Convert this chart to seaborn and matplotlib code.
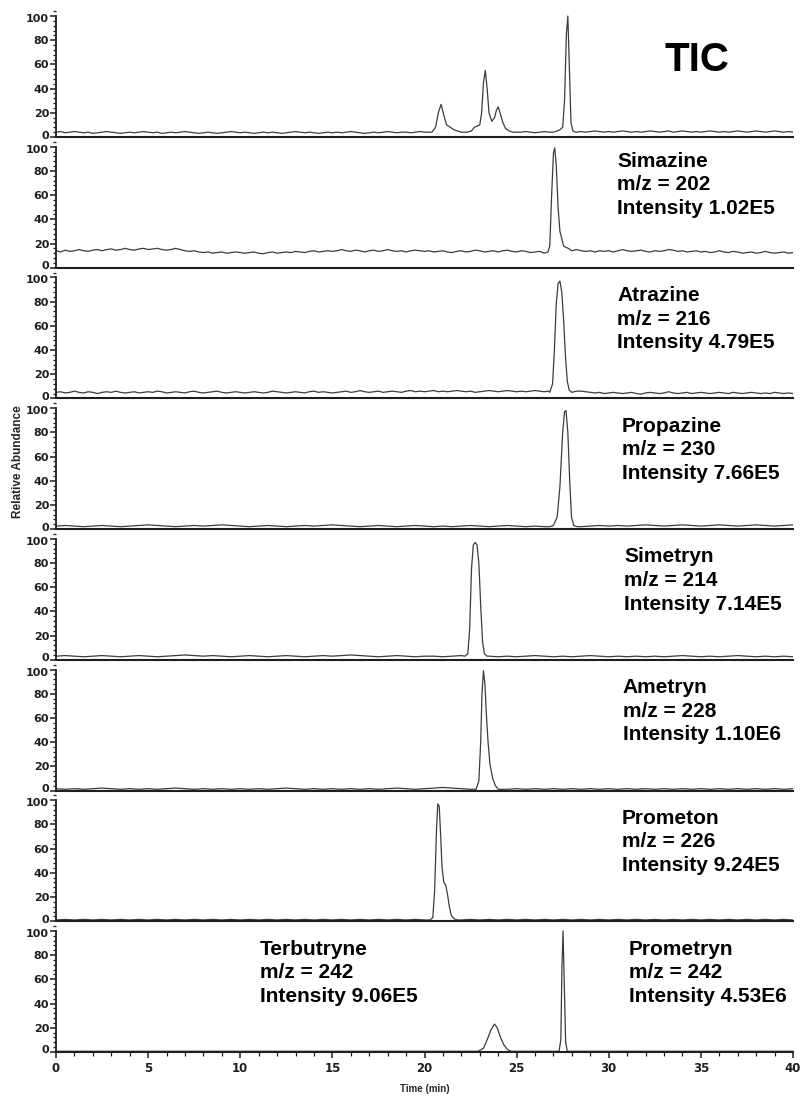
import matplotlib
matplotlib.use("Agg")
import matplotlib.pyplot as plt
from matplotlib.ticker import MultipleLocator
from matplotlib.transforms import ScaledTranslation
import pandas as pd
import seaborn as sns

# ---------------------------------------------------------------------------
# Data: SIM chromatograms of triazine herbicides (relative abundance, %)
# ---------------------------------------------------------------------------
# baseline sampling grids, minutes
base_time = [i * 0.5 for i in range(81)]          # 0 .. 40, every 0.5 min
base_time_fine = [i * 0.25 for i in range(161)]   # 0 .. 40, every 0.25 min

tic_base = [
    4, 4.5, 3.5, 4, 4.5, 4, 3.5, 4, 3, 3.5, 4, 4.5, 4, 3.5, 3, 3.5, 4, 3.5, 4, 4.5, 4,
    3.5, 4, 3, 3.5, 4, 3.5, 4, 4.5, 4, 3.5, 3, 3.5, 4, 3.5, 3, 3.5, 4, 4.5, 4, 3.5,
    4, 3.5, 3, 3.5, 4, 3.5, 4, 3.5, 3, 3.5, 4, 4.5, 4, 3.5, 4, 3.5, 3, 3.5, 4, 3.5,
    4, 3.5, 4, 4.5, 4, 3.5, 3, 3.5, 4, 3.5, 4, 4.5, 4, 3.5, 4, 4, 3.5, 4, 4.5, 4,
    4, 4, 4, 4, 4, 4, 4, 4, 4, 4, 4, 4, 4, 4, 4, 4, 4, 4, 4, 4,
    4, 4.5, 4, 3.5, 4, 4.5, 4, 4, 4, 4, 4, 4, 4, 4.5, 4, 4.5, 5, 4.5, 4, 4.5,
    4, 4.5, 5, 4.5, 4, 4.5, 4, 4.5, 5, 4.5, 4, 4.5, 5, 4, 4.5, 5, 4.5, 4, 4.5, 4,
    4.5, 5, 4.5, 4, 4.5, 4, 4.5, 5, 4.5, 4, 4.5, 5, 4.5, 4, 4.5, 5, 4.5, 4, 4.5, 4,
]
simazine_base = [
    14, 13, 14.5, 13.5, 14, 15, 14, 13.5, 14.5, 15, 14, 15, 15.5, 14.5, 15, 16, 15, 14.5, 15.5, 16, 15,
    15.5, 16, 15, 14.5, 15, 16, 15, 14, 13.5, 14, 13, 12.5, 13, 12, 12.5, 13, 12, 12.5, 13, 12.5,
    12, 12.5, 13, 12, 11.5, 12.5, 13, 12, 12.5, 13, 12.5, 13.5, 13, 12.5, 13.5, 14, 13, 13.5, 14, 13.5,
    14, 15, 14, 13.5, 14.5, 14, 13, 14, 14.5, 13.5, 14, 15, 14, 13.5, 14, 13, 14, 14.5, 14, 13.5,
    14, 13, 13.5, 14, 13, 12.5, 13.5, 14, 13, 13.5, 14.5, 14, 13, 13.5, 14, 13, 14, 14.5, 13.5, 13,
    14, 13.5, 12.5, 13, 13.5, 12.5, 13, 14, 13, 13, 13, 14, 15, 14, 13.5, 14, 13, 14, 13.5, 14,
    13, 14, 15, 14, 13.5, 14, 14.5, 13.5, 13, 14, 13.5, 14, 15, 14.5, 13.5, 14, 13, 13.5, 14, 13,
    13.5, 12.5, 13, 14, 13, 12.5, 13.5, 13, 12, 12.5, 13, 12, 12.5, 13.5, 12.5, 12, 12.5, 13, 12, 12.5,
]
atrazine_base = [
    5, 5.5, 4.5, 5, 6, 5, 4.5, 5.5, 5, 4, 5, 5.5, 5, 6, 5, 4.5, 5, 5.5, 4.5, 5, 5.5,
    5, 6, 5.5, 4.5, 5, 5.5, 5, 4.5, 5.5, 6, 5, 4.5, 5, 5.5, 6, 5, 4.5, 5, 5.5, 5,
    4.5, 5, 5.5, 5, 4.5, 5, 6, 5.5, 5, 4.5, 5, 5.5, 5, 4.5, 5.5, 6, 5, 5.5, 5, 4.5,
    5, 5.5, 6, 5, 5.5, 6.5, 5.5, 5, 5.5, 6, 5, 5.5, 6, 5.5, 5, 6, 6.5, 5.5, 6, 5.5,
    6, 6.5, 5.5, 6, 5.5, 6, 6.5, 6, 5.5, 6, 5, 5.5, 6, 6.5, 6, 5.5, 6, 6.5, 6, 5.5,
    6, 5.5, 6, 6.5, 6, 5.5, 6, 6, 6, 6, 6, 6, 6, 6, 5.5, 5, 4.5, 5, 4, 4.5,
    5, 4.5, 4, 4.5, 5, 4, 3.5, 4.5, 5, 4.5, 4, 4.5, 5.5, 4.5, 4, 4.5, 5, 4, 4.5, 5,
    4.5, 4, 4.5, 5, 4.5, 4, 5, 4.5, 4, 4.5, 5, 4.5, 4, 4.5, 4, 5, 4.5, 4, 4.5, 4,
]
propazine_base = [2.5, 3, 2.5, 2, 2.5, 3, 2.5, 2, 2.5, 3, 3.5, 3, 2.5, 2, 2.5, 3, 2.5, 3, 3.5, 3, 2.5,
                  2, 2.5, 3, 2.5, 2, 2.5, 3, 2.5, 3, 3.5, 3, 2.5, 2, 2.5, 3, 2.5, 2, 2.5, 3, 2.5,
                  2, 2.5, 2, 2.5, 3, 2.5, 2, 2.5, 3, 2.5, 2, 2.5, 2, 2.5, 2, 2.5, 2, 2.5, 3, 2.5,
                  3, 2.5, 3, 3.5, 3, 2.5, 3, 3.5, 3, 2.5, 3, 3.5, 3, 2.5, 3, 3.5, 3, 2.5, 3, 3.5]
simetryn_base = [3, 3.5, 3, 2.5, 3, 3.5, 3, 2.5, 3, 3.5, 3, 2.5, 3, 3.5, 4, 3.5, 3, 3.5, 3, 2.5, 3,
                 3.5, 3, 2.5, 3, 3.5, 3, 2.5, 3, 3.5, 3, 3.5, 4, 3.5, 3, 2.5, 3, 3.5, 3, 2.5, 3,
                 3, 2.5, 3, 3.5, 3, 3.5, 3, 2.5, 3, 2.5, 3, 3.5, 3, 2.5, 3, 2.5, 3, 3.5, 3, 2.5,
                 3, 2.5, 3, 2.5, 3, 2.5, 3, 3.5, 3, 2.5, 3, 2.5, 3, 3.5, 3, 2.5, 3, 2.5, 3, 2.5]
ametryn_base = [1.5, 1, 1.5, 1, 1.5, 2, 1.5, 1, 1.5, 1, 1.5, 1, 1.5, 2, 1.5, 1, 1.5, 1, 1.5, 1, 1.5,
                1, 1.5, 1, 1.5, 2, 1.5, 1, 1.5, 1, 1.5, 1, 1.5, 1, 1.5, 1, 1.5, 2, 1.5, 1, 1.5,
                2, 2.5, 2, 1.5, 1, 1.5, 1, 1.5, 1, 1.5, 1, 1.5, 1, 1.5, 1, 1.5, 1, 1.5, 1, 1.5,
                1, 1.5, 1, 1.5, 1, 1.5, 1, 1.5, 1, 1.5, 1, 1.5, 1, 1.5, 1, 1.5, 1, 1.5, 1, 1.5]
prometon_base = [1, 1.5, 1, 1.5, 1, 1.5, 1, 1.5, 1, 1.5, 1, 1.5, 1, 1.5, 1, 1.5, 1, 1.5, 1, 1.5, 1,
                 1.5, 1, 1.5, 1, 1.5, 1, 1.5, 1, 1.5, 1, 1.5, 1, 1.5, 1, 1.5, 1, 1.5, 1, 1.5, 1,
                 1.5, 1, 1.5, 1, 1.5, 1, 1.5, 1, 1.5, 1, 1.5, 1, 1.5, 1, 1.5, 1, 1.5, 1, 1.5, 1,
                 1.5, 1, 1.5, 1, 1.5, 1, 1.5, 1, 1.5, 1, 1.5, 1, 1.5, 1, 1.5, 1, 1.5, 1, 1.5, 1]
m242_base = [0.5] * 81

# peak segments: (times, relative abundance)
tic_peaks = [
    ([20.4, 20.6, 20.75, 20.9, 21.05, 21.2, 21.4, 21.6, 21.8, 22.0, 22.3, 22.55, 22.7, 22.85,
      23.0, 23.1, 23.2, 23.3, 23.4, 23.5, 23.65, 23.8, 23.9, 24.0, 24.1, 24.25, 24.4, 24.6,
      24.8, 25.0],
     [4, 8, 20, 27, 18, 10, 8, 6, 5, 4, 4, 5, 8, 9, 10, 20, 45, 55, 40, 20, 13, 16, 22, 25,
      20, 12, 7, 5, 4, 4]),
    ([27.0, 27.2, 27.35, 27.5, 27.6, 27.7, 27.78, 27.86, 27.95, 28.05, 28.2],
     [4, 5, 6, 8, 30, 85, 100, 60, 12, 5, 4]),
]
simazine_peaks = [
    ([26.5, 26.7, 26.8, 26.9, 27.0, 27.07, 27.15, 27.25, 27.35, 27.45, 27.55, 27.65, 27.8, 28.0],
     [12, 13, 18, 60, 95, 99, 85, 50, 30, 24, 18, 17, 16, 14]),
]
atrazine_peaks = [
    ([26.8, 26.95, 27.05, 27.15, 27.25, 27.35, 27.45, 27.55, 27.65, 27.75, 27.85, 28.0],
     [5, 12, 40, 78, 95, 97, 88, 65, 35, 14, 7, 5]),
]
propazine_peaks = [
    ([26.8, 27.0, 27.2, 27.35, 27.5, 27.6, 27.68, 27.78, 27.88, 27.98, 28.1, 28.3],
     [2, 3, 10, 35, 80, 97, 98, 80, 40, 10, 3, 2]),
]
simetryn_peaks = [
    ([22.2, 22.35, 22.45, 22.55, 22.65, 22.75, 22.85, 22.95, 23.05, 23.15, 23.25, 23.4],
     [3, 5, 25, 75, 95, 97, 95, 80, 45, 15, 5, 3]),
]
ametryn_peaks = [
    ([22.8, 22.95, 23.05, 23.12, 23.2, 23.28, 23.35, 23.45, 23.55, 23.7, 23.85, 24.0],
     [1, 8, 40, 80, 99, 88, 65, 40, 22, 10, 4, 1]),
]
prometon_peaks = [
    ([20.3, 20.45, 20.55, 20.65, 20.72, 20.8, 20.88, 20.95, 21.05, 21.15, 21.25, 21.35, 21.45,
      21.6, 21.8],
     [1, 3, 25, 75, 97, 95, 70, 45, 32, 30, 22, 12, 5, 2, 1]),
]
m242_peaks = [
    ([22.9, 23.2, 23.4, 23.6, 23.8, 23.95, 24.1, 24.3, 24.5, 24.7],
     [0.5, 3, 10, 18, 23, 20, 13, 6, 2, 0.5]),            # terbutryne
    ([27.3, 27.4, 27.46, 27.52, 27.58, 27.66, 27.75],
     [0.5, 10, 70, 100, 60, 8, 0.5]),                     # prometryn
]

# axis tick values
y_ticks = [0, 20, 40, 60, 80, 100]
x_ticks = [0, 5, 10, 15, 20, 25, 30, 35, 40]

# panel annotations
labels = [
    [],
    ["Simazine", "m/z = 202", "Intensity 1.02E5"],
    ["Atrazine", "m/z = 216", "Intensity 4.79E5"],
    ["Propazine", "m/z = 230", "Intensity 7.66E5"],
    ["Simetryn", "m/z = 214", "Intensity 7.14E5"],
    ["Ametryn", "m/z = 228", "Intensity 1.10E6"],
    ["Prometon", "m/z = 226", "Intensity 9.24E5"],
    ["Prometryn", "m/z = 242", "Intensity 4.53E6"],
]
terbutryne_label = ["Terbutryne", "m/z = 242", "Intensity 9.06E5"]
label_x = [None, 30.45, 30.45, 30.7, 30.85, 30.75, 30.7, 31.1]
label_y0 = [None, 88, 85, 85, 85, 85, 85, 85]

panels = [
    (base_time_fine, tic_base, tic_peaks),
    (base_time_fine, simazine_base, simazine_peaks),
    (base_time_fine, atrazine_base, atrazine_peaks),
    (base_time, propazine_base, propazine_peaks),
    (base_time, simetryn_base, simetryn_peaks),
    (base_time, ametryn_base, ametryn_peaks),
    (base_time, prometon_base, prometon_peaks),
    (base_time, m242_base, m242_peaks),
]


def assemble(times, base, peaks):
    """Merge the baseline samples with the detailed peak segments."""
    rows = [(t, v) for t, v in zip(times, base)
            if not any(seg_t[0] <= t <= seg_t[-1] for seg_t, _ in peaks)]
    for seg_t, seg_v in peaks:
        rows.extend(zip(seg_t, seg_v))
    rows.sort()
    return pd.DataFrame(rows, columns=["time", "abundance"])


# ---------------------------------------------------------------------------
# Figure
# ---------------------------------------------------------------------------
sns.set_style("ticks")
plt.rcParams["font.family"] = ["Liberation Sans", "DejaVu Sans"]
plt.rcParams["font.weight"] = "bold"

W, H = 801, 1097
fig = plt.figure(figsize=(W / 100, H / 100), dpi=100)
fig.patch.set_facecolor("white")

ax_left = 56 / W
ax_width = (793 - 56) / W
ax_height = 127 / H
trace_color = "#3c3c3c"
axis_color = "#1e1e1e"

# small vertical nudges so the "0" of one panel clears the "100" of the next
nudge_up = ScaledTranslation(0, 0.025, fig.dpi_scale_trans)
nudge_down = ScaledTranslation(0, -0.02, fig.dpi_scale_trans)

axes = []
for i, (times, base, peaks) in enumerate(panels):
    zero_px = 137 + 130.7 * i
    ax = fig.add_axes([ax_left, 1 - zero_px / H, ax_width, ax_height])
    axes.append(ax)
    df = assemble(times, base, peaks)
    sns.lineplot(data=df, x="time", y="abundance", ax=ax, color=trace_color,
                 linewidth=0.9, estimator=None)
    ax.set_xlim(0, 40)
    ax.set_ylim(0, 105)
    ax.set_facecolor("none")
    for side in ("top", "right"):
        ax.spines[side].set_visible(False)
    ax.spines["left"].set_bounds(0, 100)
    ax.spines["left"].set_linewidth(1.3)
    ax.spines["bottom"].set_linewidth(1.5)
    for side in ("left", "bottom"):
        ax.spines[side].set_color(axis_color)

    ax.set_yticks(y_ticks)
    ax.yaxis.set_minor_locator(MultipleLocator(4))
    ax.tick_params(axis="y", which="major", direction="out", length=4, width=1.1,
                   labelsize=8, pad=1, colors=axis_color,
                   labelfontfamily="DejaVu Sans")
    ax.tick_params(axis="y", which="minor", direction="out", length=2.5, width=0.9,
                   colors=axis_color)
    ax.set_ylabel("")
    ax.set_xlabel("")

    if i < len(panels) - 1:
        ax.tick_params(axis="x", which="both", bottom=False, labelbottom=False)
    else:
        ax.set_xticks(x_ticks)
        ax.xaxis.set_minor_locator(MultipleLocator(1))
        ax.tick_params(axis="x", which="major", direction="out", length=4.5, width=1.1,
                       labelsize=8.5, pad=3, colors=axis_color,
                       labelfontfamily="DejaVu Sans")
        ax.tick_params(axis="x", which="minor", direction="out", length=3, width=0.9,
                       colors=axis_color)
        ax.set_xlabel("Time (min)", fontsize=7, fontweight="bold", labelpad=6)

    for lab in ax.get_xticklabels() + ax.get_yticklabels():
        lab.set_fontweight("bold")

    yt = ax.yaxis.get_major_ticks()
    yt[0].label1.set_transform(yt[0].label1.get_transform() + nudge_up)
    yt[-1].label1.set_transform(yt[-1].label1.get_transform() + nudge_down)

    lines = labels[i]
    for k, txt in enumerate(lines):
        ax.text(label_x[i], label_y0[i] - 19.5 * k, txt, fontsize=15,
                fontweight="bold", va="center", ha="left", color="black")

axes[0].text(34.8, 64, "TIC", fontsize=29, fontweight="bold", va="center",
             ha="center", color="black")
for k, txt in enumerate(terbutryne_label):
    axes[-1].text(11.07, 85 - 19.5 * k, txt, fontsize=15, fontweight="bold",
                  va="center", ha="left", color="black")

fig.text(18 / W, 1 - 462 / H, "Relative Abundance", rotation=90, fontsize=8.5,
         fontweight="bold", va="center", ha="center")

fig.savefig("out.png", dpi=100, facecolor="white")
